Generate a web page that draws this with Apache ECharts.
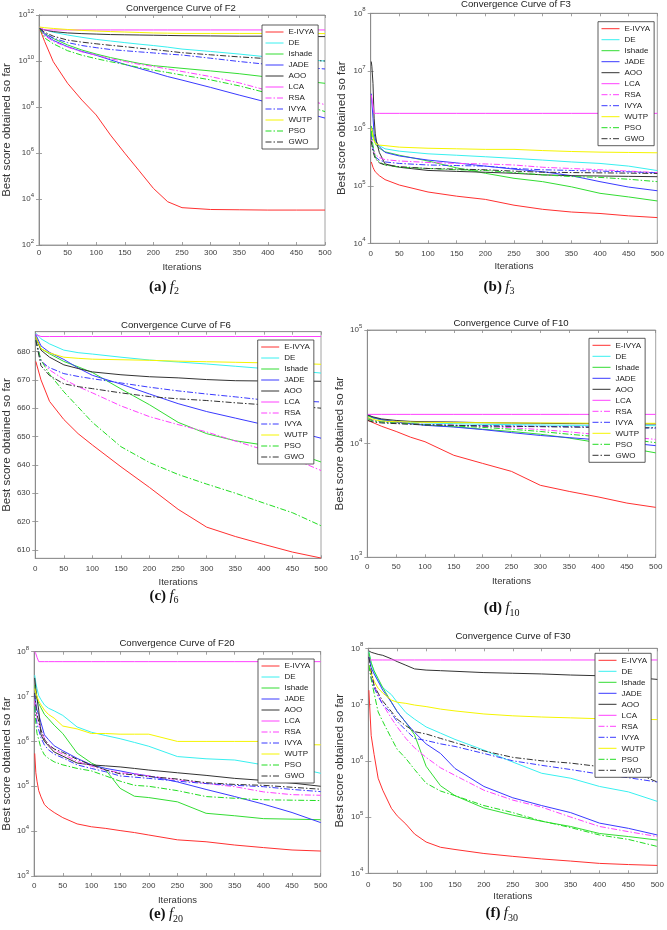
<!DOCTYPE html>
<html><head><meta charset="utf-8">
<script src="https://cdn.jsdelivr.net/npm/echarts@6.0.0/dist/echarts.min.js"></script>
<style>html,body{margin:0;padding:0;background:#fff}#c{width:667px;height:930px}</style>
</head><body><div id="c"></div>
<script>
// ---------------- DATA ----------------
const algNames = ['E-IVYA','DE','Ishade','JADE','AOO','LCA','RSA','IVYA','WUTP','PSO','GWO'];
const xTickLabels = [0,50,100,150,200,250,300,350,400,450,500];
const panelTitles = ['Convergence Curve of F2','Convergence Curve of F3','Convergence Curve of F6','Convergence Curve of F10','Convergence Curve of F20','Convergence Curve of F30'];
const captionLetters = ['a','b','c','d','e','f'];
const captionIndex = ['2','3','6','10','20','30'];
const f6Ticks = [610,620,630,640,650,660,670,680];

// F2
const itF2 = [1,10,25,50,75,100,125,150,175,200,225,250,300,350,400,450,500];
const F2_EIVYA = [2.6e11,6.9e10,9.3e9,1.07e9,2.0e8,4.5e7,6.0e6,9.8e5,1.7e5,2.9e4,7.6e3,4.2e3,3.5e3,3.4e3,3.3e3,3.3e3,3.3e3];
const F2_DE = [2.7e11,2.24e11,1.78e11,1.35e11,1.07e11,8.7e10,7.4e10,6.3e10,5.4e10,4.7e10,4.0e10,3.3e10,2.6e10,2.0e10,1.5e10,1.2e10,1.0e10];
const F2_Ishade = [2.6e11,1.58e11,9.5e10,5.0e10,3.0e10,2.0e10,1.41e10,1.05e10,7.9e9,6.3e9,5.5e9,4.8e9,3.7e9,2.8e9,2.0e9,1.48e9,1.07e9];
const F2_JADE = [2.6e11,1.41e11,7.9e10,4.2e10,2.6e10,1.78e10,1.12e10,7.1e9,4.8e9,3.2e9,2.1e9,1.48e9,7.1e8,3.3e8,1.58e8,7.1e7,3.3e7];
const F2_AOO = [2.6e11,2.24e11,1.9e11,1.66e11,1.55e11,1.48e11,1.41e11,1.38e11,1.35e11,1.32e11,1.29e11,1.26e11,1.23e11,1.2e11,1.2e11,1.17e11,1.15e11];
const F2_LCA = [2.8e11,2.24e11,2.24e11,2.24e11,2.24e11,2.24e11,2.24e11,2.24e11,2.24e11,2.24e11,2.24e11,2.24e11,2.24e11,2.24e11,2.24e11,2.24e11,2.24e11];
const F2_RSA = [2.6e11,1.26e11,7.1e10,4.0e10,2.5e10,1.78e10,1.26e10,9.5e9,7.2e9,5.8e9,4.5e9,3.5e9,2.1e9,1.12e9,5.2e8,2.8e8,1.26e8];
const F2_IVYA = [2.6e11,1.58e11,1.0e11,6.3e10,4.7e10,3.8e10,3.16e10,2.8e10,2.5e10,2.24e10,2.0e10,1.82e10,1.32e10,9.5e9,7.1e9,5.6e9,4.5e9];
const F2_WUTP = [3.0e11,2.8e11,2.6e11,2.34e11,2.14e11,2.0e11,1.9e11,1.82e11,1.74e11,1.66e11,1.62e11,1.58e11,1.58e11,1.58e11,1.58e11,1.58e11,1.55e11];
const F2_PSO = [2.6e11,1.0e11,5.6e10,2.8e10,1.78e10,1.26e10,9.3e9,7.1e9,5.2e9,4.0e9,3.16e9,2.45e9,1.51e9,8.3e8,4.0e8,1.58e8,6.3e7];
const F2_GWO = [2.6e11,1.78e11,1.2e11,8.1e10,6.6e10,5.6e10,4.8e10,4.2e10,3.6e10,3.16e10,2.7e10,2.3e10,1.86e10,1.51e10,1.26e10,1.12e10,1.0e10];

// F3
const itF3 = [1,2,4,6,8,10,15,25,50,100,150,200,250,300,350,400,450,500];
const F3_EIVYA = [2.6e5,2.4e5,2.1e5,1.9e5,1.75e5,1.65e5,1.5e5,1.28e5,1.03e5,7.8e4,6.6e4,5.8e4,4.6e4,3.9e4,3.5e4,3.3e4,3.0e4,2.8e4];
const F3_DE = [9e5,8e5,7e5,6.5e5,6e5,5.6e5,5.0e5,4.4e5,4.0e5,3.6e5,3.4e5,3.2e5,3.0e5,2.8e5,2.6e5,2.45e5,2.2e5,1.84e5];
const F3_Ishade = [1.1e6,1.0e6,8e5,6.5e5,5.5e5,5.0e5,4.5e5,3.9e5,3.4e5,2.7e5,2.05e5,1.65e5,1.35e5,1.18e5,9.6e4,7.4e4,6.4e4,5.45e4];
const F3_JADE = [4.0e6,3.8e6,1.5e6,8e5,6.5e5,5.8e5,4.8e5,3.8e5,3.3e5,2.8e5,2.5e5,2.2e5,1.95e5,1.76e5,1.5e5,1.18e5,9.5e4,8.2e4];
const F3_AOO = [1.45e7,1.2e7,6e6,1.5e6,8e5,6e5,3.8e5,2.4e5,2.1e5,1.85e5,1.78e5,1.72e5,1.65e5,1.55e5,1.5e5,1.48e5,1.46e5,1.44e5];
const F3_LCA = [3.8e6,3.8e6,3.6e6,1.82e6,1.82e6,1.82e6,1.82e6,1.82e6,1.82e6,1.82e6,1.82e6,1.82e6,1.82e6,1.82e6,1.82e6,1.82e6,1.82e6,1.82e6];
const F3_RSA = [7e5,6e5,4.5e5,3.8e5,3.5e5,3.3e5,3.1e5,2.85e5,2.7e5,2.55e5,2.45e5,2.4e5,2.3e5,2.1e5,2.0e5,1.9e5,1.8e5,1.7e5];
const F3_IVYA = [8e5,6e5,4.5e5,3.6e5,3.2e5,3.0e5,2.8e5,2.6e5,2.45e5,2.3e5,2.25e5,2.2e5,2.0e5,1.9e5,1.85e5,1.8e5,1.75e5,1.68e5];
const F3_WUTP = [1.0e6,9e5,7e5,6e5,5.5e5,5.3e5,5.1e5,5.0e5,4.7e5,4.5e5,4.4e5,4.3e5,4.3e5,4.1e5,3.95e5,3.85e5,3.8e5,3.75e5];
const F3_PSO = [9e5,7e5,5e5,4e5,3.2e5,2.9e5,2.6e5,2.3e5,2.1e5,2.0e5,1.9e5,1.85e5,1.7e5,1.55e5,1.45e5,1.4e5,1.3e5,1.18e5];
const F3_GWO = [6e5,5e5,4e5,3.4e5,3.0e5,2.8e5,2.5e5,2.3e5,2.15e5,2.0e5,1.95e5,1.9e5,1.8e5,1.72e5,1.7e5,1.68e5,1.66e5,1.64e5];

// F6
const itF6 = [1,10,25,50,75,100,150,200,250,300,350,400,450,500];
const F6_EIVYA = [676.5,670,662.4,656,651,647,639.3,632,624.3,618,614.7,611.9,609.2,607.1];
const F6_DE = [686.5,684.5,682.7,680.5,679.6,679.1,678,677,676.3,675.6,674.8,674,673.3,672.4];
const F6_Ishade = [685,681,679.2,676.5,674.6,672.6,666.8,661.2,655,651,648.5,647,644.5,641];
const F6_JADE = [686,682,679.7,677.2,674.2,671.6,668.5,665,661.6,658.8,656.5,654.2,652,649.4];
const F6_AOO = [685,680.5,678,675.3,674,672.8,671.8,671.1,670.7,670.1,669.7,669.6,669.6,669.5];
const F6_LCA = [686,685.3,685.3,685.3,685.3,685.3,685.3,685.3,685.3,685.3,685.3,685.3,685.3,685.3];
const F6_RSA = [684,677,673.5,670.2,667.6,665.4,660.8,657,654.2,651.6,648.4,645.3,642.3,638];
const F6_IVYA = [684,676.5,674.3,672.2,671.2,670.4,668.9,667.4,666.1,665,664,662.9,662.6,662.2];
const F6_WUTP = [685,681,679.5,678,677.6,677.3,677.1,676.9,676.6,676.4,676.2,676,675.8,675.5];
const F6_PSO = [684,677,672,665.8,660.4,655,646.4,640.8,636.6,633.2,630,626.5,623.1,618.5];
const F6_GWO = [684,675,671.5,668.6,667.6,666.9,665.4,664.1,663.3,662.7,661.9,661.2,660.8,660];

// F10
const itF10 = [1,10,25,50,75,100,150,200,250,300,350,400,450,500];
const F10_EIVYA = [1.6e4,1.53e4,1.42e4,1.28e4,1.14e4,1.04e4,7.9e3,6.7e3,5.7e3,4.3e3,3.8e3,3.4e3,3.0e3,2.75e3];
const F10_DE = [1.78e4,1.7e4,1.62e4,1.56e4,1.54e4,1.52e4,1.5e4,1.48e4,1.47e4,1.46e4,1.45e4,1.45e4,1.44e4,1.44e4];
const F10_Ishade = [1.75e4,1.68e4,1.62e4,1.55e4,1.5e4,1.46e4,1.41e4,1.34e4,1.28e4,1.21e4,1.12e4,1.02e4,9.2e3,8.3e3];
const F10_JADE = [1.8e4,1.7e4,1.63e4,1.55e4,1.5e4,1.45e4,1.4e4,1.33e4,1.25e4,1.18e4,1.13e4,1.08e4,1.02e4,9.6e3];
const F10_AOO = [1.78e4,1.72e4,1.65e4,1.6e4,1.57e4,1.56e4,1.55e4,1.53e4,1.52e4,1.51e4,1.5e4,1.5e4,1.49e4,1.49e4];
const F10_LCA = [1.81e4,1.81e4,1.81e4,1.81e4,1.81e4,1.81e4,1.81e4,1.81e4,1.81e4,1.81e4,1.81e4,1.81e4,1.81e4,1.81e4];
const F10_RSA = [1.65e4,1.6e4,1.57e4,1.53e4,1.5e4,1.48e4,1.45e4,1.42e4,1.38e4,1.33e4,1.27e4,1.2e4,1.15e4,1.09e4];
const F10_IVYA = [1.7e4,1.6e4,1.55e4,1.51e4,1.49e4,1.47e4,1.45e4,1.44e4,1.43e4,1.42e4,1.41e4,1.4e4,1.38e4,1.37e4];
const F10_WUTP = [1.7e4,1.63e4,1.58e4,1.56e4,1.55e4,1.54e4,1.53e4,1.53e4,1.52e4,1.52e4,1.52e4,1.51e4,1.51e4,1.51e4];
const F10_PSO = [1.65e4,1.58e4,1.55e4,1.52e4,1.5e4,1.47e4,1.43e4,1.39e4,1.34e4,1.28e4,1.21e4,1.15e4,1.1e4,1.02e4];
const F10_GWO = [1.6e4,1.55e4,1.52e4,1.5e4,1.48e4,1.46e4,1.45e4,1.43e4,1.42e4,1.41e4,1.4e4,1.39e4,1.38e4,1.38e4];

// F20
const itF20 = [1,3,5,8,12,18,25,35,50,75,100,125,150,175,200,250,300,350,400,450,500];
const F20_EIVYA = [5.4e5,2.0e5,1.3e5,8e4,5.8e4,3.9e4,3.2e4,2.6e4,2.0e4,1.45e4,1.25e4,1.15e4,1.03e4,9.3e3,8.2e3,6.4e3,5.8e3,4.9e3,4.3e3,3.8e3,3.6e3];
const F20_DE = [3.0e7,2.0e7,1.5e7,1.05e7,8.5e6,6.5e6,5.5e6,4.8e6,3.8e6,2.1e6,1.6e6,1.35e6,1.15e6,9.5e5,7.8e5,4.6e5,4.1e5,3.85e5,3.0e5,2.7e5,1.95e5];
const F20_Ishade = [1.8e7,1.2e7,9e6,7e6,5.6e6,4.0e6,3.2e6,2.3e6,1.5e6,5.5e5,3.3e5,2.3e5,9e4,6e4,5.6e4,4.5e4,2.5e4,2.2e4,1.9e4,1.85e4,1.8e4];
const F20_JADE = [1.1e7,7e6,5e6,4e6,2.6e6,1.4e6,1.1e6,8e5,6.2e5,4.2e5,3.0e5,2.5e5,2.2e5,1.9e5,1.7e5,1.25e5,8.5e4,5.9e4,4.0e4,2.6e4,1.55e4];
const F20_AOO = [2.6e7,1.5e7,9e6,5e6,1.4e6,1.0e6,8e5,5.8e5,4.7e5,3.3e5,3.0e5,2.85e5,2.7e5,2.5e5,2.3e5,2.0e5,1.75e5,1.5e5,1.35e5,1.18e5,1.0e5];
const F20_LCA = [1.0e8,9e7,7.5e7,6.0e7,6.0e7,6.0e7,6.0e7,6.0e7,6.0e7,6.0e7,6.0e7,6.0e7,6.0e7,6.0e7,6.0e7,6.0e7,6.0e7,6.0e7,6.0e7,6.0e7,6.0e7];
const F20_RSA = [8e6,5e6,3.5e6,2.5e6,1.8e6,1.17e6,8.5e5,6.5e5,5.2e5,3.6e5,2.8e5,2.3e5,2.0e5,1.9e5,1.7e5,1.4e5,1.15e5,9.8e4,7.5e4,6.5e4,6.3e4];
const F20_IVYA = [6e6,3.5e6,2.5e6,1.8e6,1.2e6,8.3e5,6.5e5,5.2e5,4.3e5,3.0e5,2.5e5,2.1e5,1.7e5,1.6e5,1.5e5,1.3e5,1.15e5,1.05e5,9.8e4,8.5e4,7.6e4];
const F20_WUTP = [1.5e7,1.2e7,1.0e7,8e6,6.5e6,5e6,4e6,3.3e6,2.2e6,1.9e6,1.5e6,1.5e6,1.45e6,1.45e6,1.45e6,1.0e6,1.0e6,1.0e6,1.0e6,8.5e5,8.4e5];
const F20_PSO = [6e6,2.5e6,1.5e6,1.1e6,7e5,5e5,4.2e5,3.5e5,3.0e5,2.5e5,2.2e5,1.7e5,1.3e5,1.05e5,1.0e5,8e4,5.9e4,5.4e4,5.0e4,4.9e4,4.8e4];
const F20_GWO = [1.2e7,6e6,4e6,2.8e6,1.8e6,1.1e6,8.5e5,6.8e5,5.7e5,4.0e5,3.0e5,2.3e5,1.9e5,1.8e5,1.65e5,1.45e5,1.2e5,1.1e5,1.05e5,9.5e4,8.6e4];

// F30
const itF30 = [1,5,10,17,25,40,50,65,80,100,125,150,200,250,300,350,400,450,500];
const F30_EIVYA = [1.8e7,2.8e6,1.3e6,4.9e5,3.0e5,1.43e5,1.05e5,7.5e4,5e4,3.6e4,2.9e4,2.65e4,2.25e4,2.0e4,1.8e4,1.65e4,1.5e4,1.43e4,1.38e4];
const F30_DE = [8.7e7,5.5e7,3.8e7,2.6e7,2.0e7,1.5e7,1.1e7,7.2e6,5.5e6,4.0e6,3.1e6,2.4e6,1.55e6,9.5e5,6.0e5,4.9e5,3.5e5,2.8e5,1.9e5];
const F30_Ishade = [8.5e7,5.5e7,4.0e7,2.9e7,2.0e7,1.1e7,7.5e6,4.8e6,2.9e6,8e5,3.6e5,2.4e5,1.45e5,1.08e5,8.4e4,6.8e4,5.1e4,4.5e4,3.9e4];
const F30_JADE = [7e7,4.5e7,3.5e7,2.6e7,1.8e7,1.1e7,7.5e6,4.8e6,3.2e6,2.0e6,1.35e6,7.3e5,3.5e5,2.2e5,1.6e5,1.2e5,7.8e4,6.3e4,4.8e4];
const F30_AOO = [9e7,8.5e7,8.2e7,7.8e7,7.5e7,6.5e7,5.8e7,5e7,4.3e7,4.1e7,4.0e7,3.9e7,3.7e7,3.6e7,3.5e7,3.35e7,3.25e7,3.1e7,2.8e7];
const F30_LCA = [6.2e7,6.2e7,6.2e7,6.2e7,6.2e7,6.2e7,6.2e7,6.2e7,6.2e7,6.2e7,6.2e7,6.2e7,6.2e7,6.2e7,6.2e7,6.2e7,6.2e7,6.2e7,6.2e7];
const F30_RSA = [5e7,3e7,2.2e7,1.5e7,1.0e7,5.7e6,4.0e6,2.5e6,1.7e6,1.15e6,7.5e5,5.5e5,3.0e5,2.0e5,1.5e5,1.0e5,6.8e4,5.5e4,4.5e4];
const F30_IVYA = [5e7,3e7,2e7,1.4e7,1.0e7,7e6,5e6,3.5e6,2.5e6,2.3e6,2.0e6,1.8e6,1.35e6,1.0e6,8.3e5,7e5,5.8e5,5.0e5,4.2e5];
const F30_WUTP = [5e7,3.5e7,2.6e7,1.95e7,1.6e7,1.2e7,1.1e7,1.05e7,9.8e6,9.2e6,8.3e6,7.7e6,6.8e6,6.3e6,6.0e6,5.8e6,5.6e6,5.5e6,5.4e6];
const F30_PSO = [5e7,2.8e7,1.6e7,7.4e6,5e6,2.5e6,1.6e6,1.1e6,7e5,4.0e5,2.9e5,2.4e5,1.6e5,1.2e5,8.5e4,6.5e4,4.8e4,4.0e4,3.0e4];
const F30_GWO = [7e7,4e7,2.2e7,1.6e7,1.15e7,7.5e6,5.5e6,4.2e6,3.3e6,3.0e6,2.5e6,2.1e6,1.5e6,1.15e6,1.0e6,9.1e5,7.9e5,6.9e5,4.2e5];

// ---------------- LAYOUT & STYLE ----------------
const SANS = 'Liberation Sans, Arial, Helvetica, sans-serif';
const SERIF = 'Liberation Serif, Times New Roman, serif';
const DASHDOT = [6, 2, 1.5, 2];
const styleMap = {
  'E-IVYA': {c:'#ff3030', t:'solid'}, 'DE': {c:'#38f0f0', t:'solid'}, 'Ishade': {c:'#33dd33', t:'solid'},
  'JADE': {c:'#3a3aff', t:'solid'}, 'AOO': {c:'#333333', t:'solid'}, 'LCA': {c:'#ff40ff', t:'solid'},
  'RSA': {c:'#ff40ff', t:DASHDOT}, 'IVYA': {c:'#3a3aff', t:DASHDOT}, 'WUTP': {c:'#f5f500', t:'solid'},
  'PSO': {c:'#22dd22', t:DASHDOT}, 'GWO': {c:'#333333', t:DASHDOT}
};

const panels = [
  {it: itF2, sets: [F2_EIVYA,F2_DE,F2_Ishade,F2_JADE,F2_AOO,F2_LCA,F2_RSA,F2_IVYA,F2_WUTP,F2_PSO,F2_GWO],
   log: true, ymin: 1e2, ymax: 1e12, yint: 2,
   g: {left: 36.7, top: 15, width: 288.3, height: 230}, xMargin: 4, xNameGap: 17, yNameGap: 26,
   legend: [262, 25], title: [181, 8.3], cap: [164, 286.7]},
  {it: itF3, sets: [F3_EIVYA,F3_DE,F3_Ishade,F3_JADE,F3_AOO,F3_LCA,F3_RSA,F3_IVYA,F3_WUTP,F3_PSO,F3_GWO],
   log: true, ymin: 1e4, ymax: 1e8, yint: 1,
   g: {left: 370.7, top: 13.3, width: 290.3, height: 230}, xMargin: 6, xNameGap: 18.5, yNameGap: 23,
   legend: [598, 21.7], title: [516, 4.8], cap: [499, 286.7]},
  {it: itF6, sets: [F6_EIVYA,F6_DE,F6_Ishade,F6_JADE,F6_AOO,F6_LCA,F6_RSA,F6_IVYA,F6_WUTP,F6_PSO,F6_GWO],
   log: false, ymin: 607, ymax: 687,
   g: {left: 30.5, top: 331.7, width: 290.5, height: 226.6}, xMargin: 6, xNameGap: 19.5, yNameGap: 20,
   legend: [257.7, 340], title: [176, 325], cap: [164, 595.7]},
  {it: itF10, sets: [F10_EIVYA,F10_DE,F10_Ishade,F10_JADE,F10_AOO,F10_LCA,F10_RSA,F10_IVYA,F10_WUTP,F10_PSO,F10_GWO],
   log: true, ymin: 1e3, ymax: 1e5, yint: 1,
   g: {left: 367.3, top: 330, width: 288.4, height: 227.3}, xMargin: 5, xNameGap: 19.5, yNameGap: 21,
   legend: [589, 338.3], title: [511, 323.3], cap: [501.7, 608.3]},
  {it: itF20, sets: [F20_EIVYA,F20_DE,F20_Ishade,F20_JADE,F20_AOO,F20_LCA,F20_RSA,F20_IVYA,F20_WUTP,F20_PSO,F20_GWO],
   log: true, ymin: 1e3, ymax: 1e8, yint: 1,
   g: {left: 32.7, top: 651.7, width: 288, height: 224.3}, xMargin: 6, xNameGap: 19, yNameGap: 20.7,
   legend: [258, 659], title: [177, 643.3], cap: [166, 914]},
  {it: itF30, sets: [F30_EIVYA,F30_DE,F30_Ishade,F30_JADE,F30_AOO,F30_LCA,F30_RSA,F30_IVYA,F30_WUTP,F30_PSO,F30_GWO],
   log: true, ymin: 1e4, ymax: 1e8, yint: 1,
   g: {left: 368.3, top: 648.3, width: 289, height: 225}, xMargin: 7, xNameGap: 18.5, yNameGap: 22.3,
   legend: [595, 653.3], title: [513, 636.7], cap: [501.7, 913]}
];

const AX = '#8a8a8a';
const LBL = '#404040';

const option = {
  animation: false,
  backgroundColor: '#fff',
  grid: [], xAxis: [], yAxis: [], series: [], legend: [], graphic: []
};

const tickStyle = {show: true, inside: true, length: 3, lineStyle: {color: AX, width: 0.8}};
const lineStyleAx = {show: true, lineStyle: {color: AX, width: 0.8}};

panels.forEach((p, i) => {
  option.grid.push(Object.assign({show: true, borderColor: AX, borderWidth: 0.8, backgroundColor: '#fff'}, p.g));
  option.xAxis.push({
    gridIndex: i, type: 'value', min: 0, max: 500, interval: 50, position: 'bottom',
    name: 'Iterations', nameLocation: 'middle', nameGap: p.xNameGap,
    nameTextStyle: {fontSize: 9.5, color: '#333', fontFamily: SANS},
    axisLine: lineStyleAx, axisTick: tickStyle,
    axisLabel: {fontSize: 8, color: LBL, margin: p.xMargin, fontFamily: SANS, customValues: xTickLabels},
    splitLine: {show: false}
  });
  const y = {
    gridIndex: i, min: p.ymin, max: p.ymax, position: 'left',
    name: 'Best score obtained so far', nameLocation: 'middle', nameGap: p.yNameGap,
    nameTextStyle: {fontSize: 11.5, color: '#333', fontFamily: SANS},
    axisLine: lineStyleAx,
    axisTick: Object.assign({}, tickStyle),
    splitLine: {show: false}
  };
  if (p.log) {
    y.type = 'log'; y.logBase = 10; y.interval = p.yint;
    y.axisLabel = {margin: 5, fontFamily: SANS, color: LBL,
      formatter: v => '{b|10}{s|' + Math.round(Math.log10(v)) + '}',
      rich: {b: {fontSize: 8, color: LBL, fontFamily: SANS, lineHeight: 13},
             s: {fontSize: 6, color: LBL, fontFamily: SANS, verticalAlign: 'top', lineHeight: 7}}};
  } else {
    y.type = 'value';
    y.axisLabel = {margin: 5, fontSize: 8, color: LBL, fontFamily: SANS, customValues: f6Ticks};
    y.axisTick.customValues = f6Ticks;
  }
  option.yAxis.push(y);

  algNames.forEach((nm, k) => {
    const st = styleMap[nm];
    option.series.push({
      type: 'line', name: nm, xAxisIndex: i, yAxisIndex: i,
      data: p.it.map((x, j) => [x, p.sets[k][j]]),
      symbol: 'none', showSymbol: false, smooth: false,
      lineStyle: {color: st.c, width: 1, type: st.t},
      itemStyle: {color: st.c},
      emphasis: {disabled: true}, silent: true
    });
  });

  option.legend.push({
    orient: 'vertical', left: p.legend[0], top: p.legend[1],
    itemWidth: 18, itemHeight: 8, itemGap: 3,
    padding: [3, 4, 3, 3], borderColor: '#333', borderWidth: 0.8, backgroundColor: '#fff',
    textStyle: {fontSize: 8, color: '#222', fontFamily: SANS, lineHeight: 8},
    itemStyle: {opacity: 0},
    data: algNames.map(nm => ({name: nm, itemStyle: {opacity: 0},
      lineStyle: {color: styleMap[nm].c, width: 1, type: styleMap[nm].t}})),
    selectedMode: false
  });

  option.graphic.push({
    type: 'text', x: p.title[0], y: p.title[1], z: 100,
    style: {text: panelTitles[i], fontSize: 9.6, fontFamily: SANS, fill: '#222',
      align: 'center', verticalAlign: 'middle', textAlign: 'center', textVerticalAlign: 'middle'}
  });
  option.graphic.push({
    type: 'text', x: p.cap[0], y: p.cap[1], z: 100,
    style: {text: '{b|(' + captionLetters[i] + ')} {i|f}{s|' + captionIndex[i] + '}',
      align: 'center', verticalAlign: 'middle', textAlign: 'center', textVerticalAlign: 'middle',
      rich: {
        b: {fontSize: 15, fontWeight: 'bold', fontFamily: SERIF, fill: '#111', lineHeight: 20},
        i: {fontSize: 15, fontStyle: 'italic', fontFamily: SERIF, fill: '#111', lineHeight: 20},
        s: {fontSize: 10, fontFamily: SERIF, fill: '#111', verticalAlign: 'bottom', lineHeight: 10}
      }}
  });
});

// MATLAB-style box: mirrored top / right axes carrying only inward ticks
panels.forEach((p, i) => {
  option.xAxis.push({
    gridIndex: i, type: 'value', min: 0, max: 500, interval: 50, position: 'top',
    axisLine: lineStyleAx, axisTick: tickStyle, axisLabel: {show: false}, splitLine: {show: false}
  });
  const yr = {gridIndex: i, min: p.ymin, max: p.ymax, position: 'right',
    axisLine: lineStyleAx, axisTick: Object.assign({}, tickStyle), axisLabel: {show: false}, splitLine: {show: false}};
  if (p.log) { yr.type = 'log'; yr.logBase = 10; yr.interval = p.yint; }
  else { yr.type = 'value'; yr.axisTick.customValues = f6Ticks; yr.axisLabel = {show: false, customValues: f6Ticks}; }
  option.yAxis.push(yr);
});

const chart = echarts.init(document.getElementById('c'), null, {renderer: 'canvas'});
chart.setOption(option);
</script></body></html>
